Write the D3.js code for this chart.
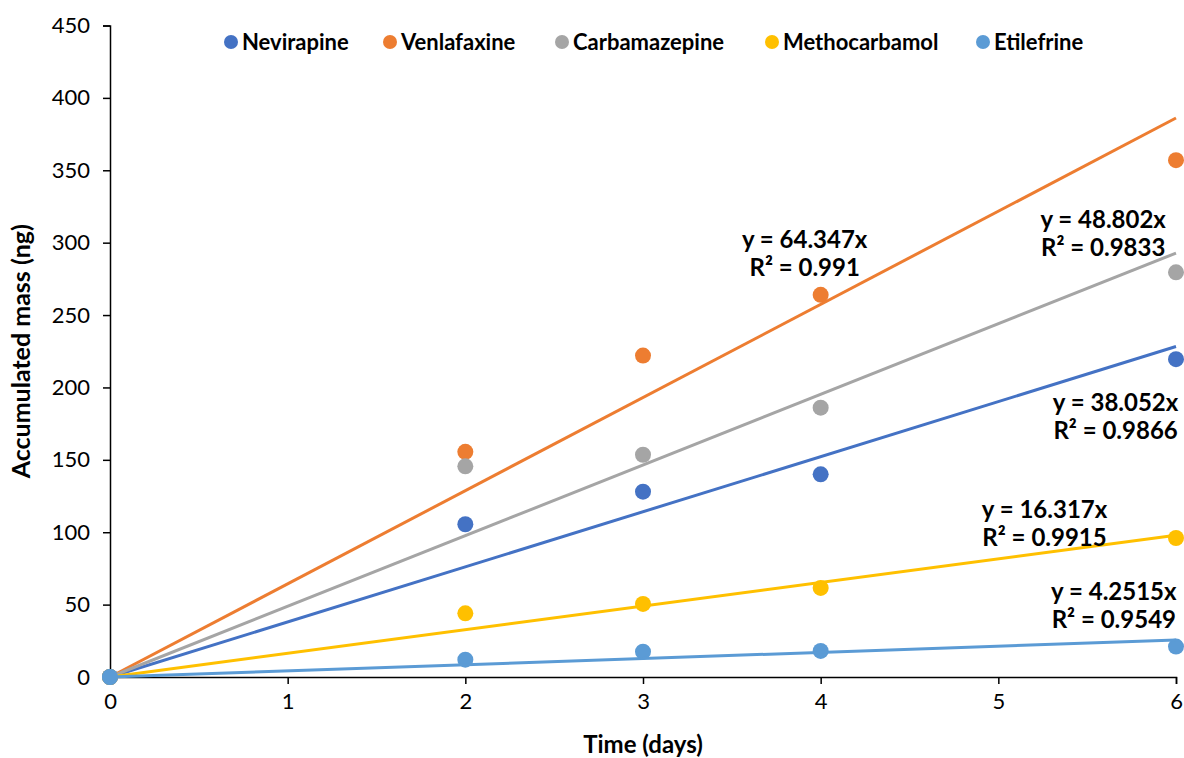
<!DOCTYPE html>
<html>
<head>
<meta charset="utf-8">
<script src="https://cdn.jsdelivr.net/npm/d3@7"></script>
<style>
  body { margin: 0; background: #fff; }
  svg text { font-family: Lato, "Open Sans", sans-serif; fill: #000; }
</style>
</head>
<body>
<div id="chart"></div>
<script>
let days = [0, 2, 3, 4, 6];
let names = ["Nevirapine", "Venlafaxine", "Carbamazepine", "Methocarbamol", "Etilefrine"];
let colors = ["#4472C4", "#ED7D31", "#A5A5A5", "#FFC000", "#5B9BD5"];
let nevirapine = [0, 105.5, 128, 140, 219.5];
let venlafaxine = [0, 155.5, 222, 264, 357];
let carbamazepine = [0, 145.5, 153.5, 186, 279.5];
let methocarbamol = [0, 44, 50.5, 61.5, 96];
let etilefrine = [0, 12, 17.5, 18, 21];
let slopes = [38.052, 64.347, 48.802, 16.317, 4.2515];
let r2s = ["0.9866", "0.991", "0.9833", "0.9915", "0.9549"];
let xTicks = [0, 1, 2, 3, 4, 5, 6];
let yTicks = [0, 50, 100, 150, 200, 250, 300, 350, 400, 450];

let allSeries = [nevirapine, venlafaxine, carbamazepine, methocarbamol, etilefrine];

const W = 1184, H = 758;
const margin = {left: 110, right: 8, top: 25.5, bottom: 81};

var svg = d3.select("#chart").append("svg")
    .attr("width", W)
    .attr("height", H);

var x = d3.scaleLinear().domain([0, 6]).range([margin.left, W - margin.right]);
var y = d3.scaleLinear().domain([0, 450]).range([H - margin.bottom, margin.top]);

// axes
var xAxis = svg.append("g")
    .attr("transform", `translate(0,${y(0)})`)
    .call(d3.axisBottom(x).tickValues(xTicks).tickSize(7).tickPadding(9).tickFormat(d3.format("d")));
var yAxis = svg.append("g")
    .attr("transform", `translate(${x(0)},0)`)
    .call(d3.axisLeft(y).tickValues(yTicks).tickSize(7).tickPadding(13).tickFormat(d3.format("d")));

[xAxis, yAxis].forEach(function(a) {
    a.select(".domain").attr("stroke", "#000").attr("stroke-width", 1.5);
    a.selectAll(".tick line").attr("stroke", "#000").attr("stroke-width", 1.5);
    a.selectAll(".tick text").style("font-size", "22px").attr("fill", "#000");
});

// markers
allSeries.forEach(function(vals, i) {
    svg.append("g").selectAll("circle")
        .data(vals.map((v, j) => ({day: days[j], value: v})))
        .enter()
        .append("circle")
        .attr("cx", d => x(d.day))
        .attr("cy", d => y(d.value))
        .attr("r", 8)
        .attr("fill", colors[i]);
});

// linear trendlines through origin
slopes.forEach(function(s, i) {
    svg.append("line")
        .attr("x1", x(0)).attr("y1", y(0))
        .attr("x2", x(6)).attr("y2", y(s * 6))
        .attr("stroke", colors[i])
        .attr("stroke-width", 3);
});
// marker at origin sits on top in the original
svg.append("circle")
    .attr("cx", x(0)).attr("cy", y(0)).attr("r", 8)
    .attr("fill", colors[4]);

// equation labels (anchor in data units)
let labelPos = [[5.66, 184], [3.91, 296], [5.59, 310], [5.26, 110], [5.65, 53]];
slopes.forEach(function(s, i) {
    let t = svg.append("text")
        .attr("x", x(labelPos[i][0]))
        .attr("y", y(labelPos[i][1]))
        .attr("text-anchor", "middle")
        .style("font-size", "24px")
        .style("font-weight", "bold");
    t.append("tspan").attr("x", x(labelPos[i][0])).text("y = " + s + "x");
    t.append("tspan").attr("x", x(labelPos[i][0])).attr("dy", 28).text("R² = " + r2s[i]);
});

// legend
let legendX = [231, 390, 562, 772, 983];
var legend = svg.append("g");
names.forEach(function(n, i) {
    legend.append("circle")
        .attr("cx", legendX[i]).attr("cy", 42).attr("r", 7)
        .attr("fill", colors[i]);
    legend.append("text")
        .attr("x", legendX[i] + 11).attr("y", 50)
        .style("font-size", "22px")
        .style("font-weight", "bold")
        .text(n);
});

// axis titles
svg.append("text")
    .attr("transform", `translate(30,${(y(0) + y(450)) / 2}) rotate(-90)`)
    .attr("text-anchor", "middle")
    .style("font-size", "25px")
    .style("font-weight", "bold")
    .text("Accumulated mass (ng)");

svg.append("text")
    .attr("x", (x(0) + x(6)) / 2)
    .attr("y", 753)
    .attr("text-anchor", "middle")
    .style("font-size", "24px")
    .style("font-weight", "bold")
    .text("Time (days)");
</script>
</body>
</html>
